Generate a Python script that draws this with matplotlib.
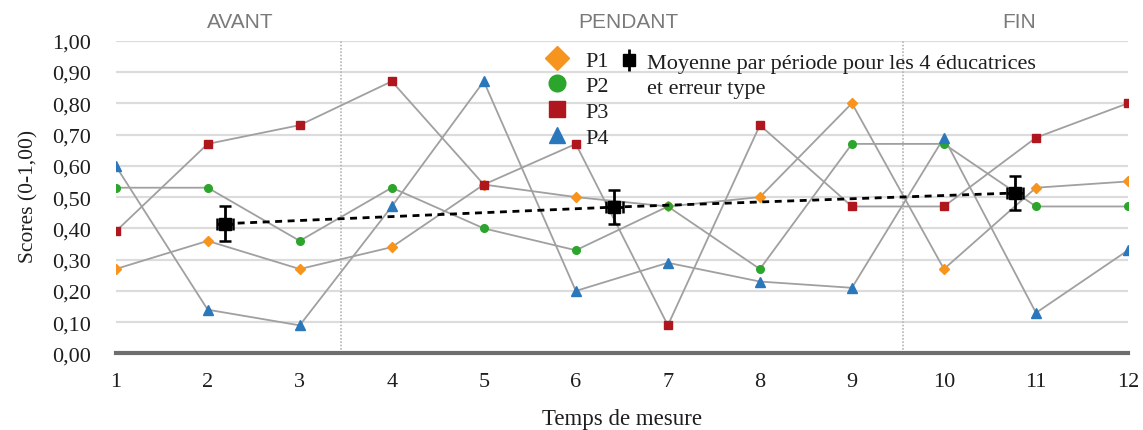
import matplotlib
matplotlib.use("Agg")
import matplotlib.pyplot as plt
from matplotlib.lines import Line2D
import numpy as np

# ---- data ----
times = [1, 2, 3, 4, 5, 6, 7, 8, 9, 10, 11, 12]
p1 = [0.27, 0.36, 0.27, 0.34, 0.54, 0.50, 0.47, 0.50, 0.80, 0.27, 0.53, 0.55]
p2 = [0.53, 0.53, 0.36, 0.53, 0.40, 0.33, 0.47, 0.27, 0.67, 0.67, 0.47, 0.47]
p3 = [0.39, 0.67, 0.73, 0.87, 0.54, 0.67, 0.09, 0.73, 0.47, 0.47, 0.69, 0.80]
p4 = [0.60, 0.14, 0.09, 0.47, 0.87, 0.20, 0.29, 0.23, 0.21, 0.69, 0.13, 0.33]
series_names = ["P1", "P2", "P3", "P4"]

mean_x = [2.19, 6.42, 10.77]
mean_y = [0.415, 0.468, 0.513]
mean_err = [0.055, 0.055, 0.055]
mean_label_lines = ["Moyenne par période pour les 4 éducatrices", "et erreur type"]

period_labels = ["AVANT", "PENDANT", "FIN"]
period_label_x = [2.35, 6.57, 10.82]
period_bounds = [3.45, 9.55]

yticks = [0.0, 0.1, 0.2, 0.3, 0.4, 0.5, 0.6, 0.7, 0.8, 0.9, 1.0]
ytick_labels = ["0,00", "0,10", "0,20", "0,30", "0,40", "0,50",
                "0,60", "0,70", "0,80", "0,90", "1,00"]

colors = ["#F7941E", "#2BA52B", "#B0161E", "#2A77BC"]
markers = ["D", "o", "s", "^"]
msizes = [5.5, 5.5, 5.5, 6.5]

serif = ["Liberation Serif", "DejaVu Serif"]
txt_color = "#1E1E1E"

fig = plt.figure(figsize=(11.43, 4.31), dpi=100)
ax = fig.add_axes([0.1012, 0.1775, 0.8857, 0.7258])

for y in yticks[1:]:
    ax.axhline(y, color="#DCDCDC", lw=1.6, zorder=0)
for b in period_bounds:
    ax.axvline(b, color="#B5B5B5", lw=1.2, ls=(0, (1, 1)), zorder=1)

for ys, c, m, ms in zip([p1, p2, p3, p4], colors, markers, msizes):
    ax.plot(times, ys, color="#A0A0A0", lw=1.3, zorder=2)
    ax.plot(times, ys, ls="none", marker=m, ms=ms, color=c, mec=c, zorder=3)

ax.plot(mean_x, mean_y, color="black", lw=2, ls=(0, (2.5, 2)), zorder=4)
ax.errorbar(mean_x, mean_y, yerr=mean_err, xerr=0.09, fmt="s", color="black",
            ms=8, elinewidth=2, capsize=4.5, capthick=1.8, zorder=5)

ax.set_xlim(1, 12)
ax.set_ylim(0, 1.0)
ax.set_xticks(times)
ax.set_xticklabels([str(t) for t in times], family=serif, fontsize=16, color=txt_color)
ax.set_yticks(yticks)
ax.set_yticklabels(ytick_labels, family=serif, fontsize=16, color=txt_color)
ax.tick_params(axis="x", length=0, pad=13)
ax.tick_params(axis="y", length=0, pad=18)
for s in ["left", "right", "top"]:
    ax.spines[s].set_visible(False)
ax.spines["bottom"].set_color("#6E6E6E")
ax.spines["bottom"].set_linewidth(3)

ax.set_xlabel("Temps de mesure", family=serif, fontsize=16.5, color=txt_color)
ax.xaxis.set_label_coords(0.5, -0.175)
ax.set_ylabel("Scores (0-1,00)", family=serif, fontsize=15.5, color=txt_color)
ax.yaxis.set_label_coords(-0.0765, 0.505)

for lab, xx in zip(period_labels, period_label_x):
    ax.text(xx, 1.044, lab, ha="center", va="baseline", fontsize=15,
            family=["Liberation Sans", "DejaVu Sans"], color="#7A7A7A")

handles = [Line2D([], [], ls="none", marker=m, ms=12, color=c)
           for m, c in zip(markers, colors)]
leg1 = ax.legend(handles, series_names, loc="upper left",
                 bbox_to_anchor=(5.46, 3.80), bbox_transform=fig.dpi_scale_trans,
                 frameon=False, prop={"family": serif, "size": 16},
                 handlelength=1.0, handletextpad=0.77,
                 labelspacing=0.23, borderpad=0.0, borderaxespad=0.0)
for t in leg1.get_texts():
    t.set_color(txt_color)
ax.add_artist(leg1)
eb = ax.errorbar([], [], yerr=[], fmt="s", color="black", ms=8, capsize=4, elinewidth=2)
blank = Line2D([], [], ls="none", marker="none")
leg2 = ax.legend([eb, blank], mean_label_lines,
                 loc="upper left", bbox_to_anchor=(6.20, 3.78),
                 bbox_transform=fig.dpi_scale_trans, frameon=False,
                 prop={"family": serif, "size": 16}, handlelength=0.8,
                 handletextpad=0.41, labelspacing=0.22,
                 borderpad=0.0, borderaxespad=0.0)
for t in leg2.get_texts():
    t.set_color(txt_color)

fig.savefig("out.png", dpi=100)
